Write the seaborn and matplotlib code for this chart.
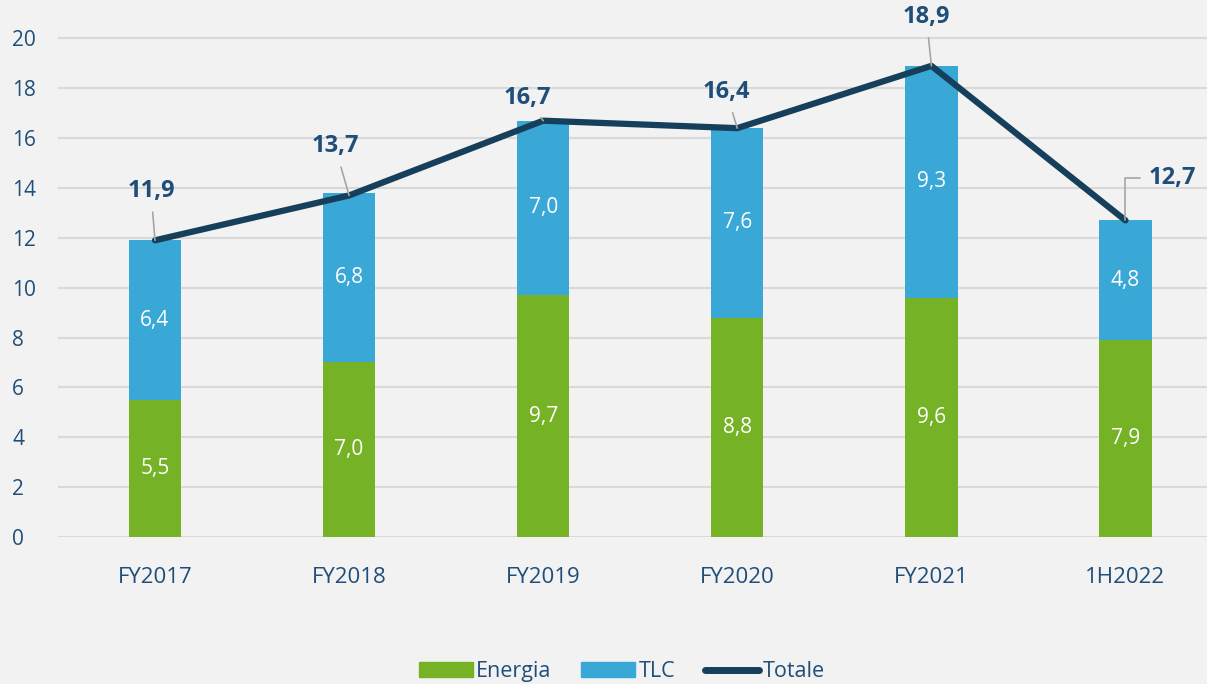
import numpy as np
import pandas as pd
import seaborn as sns
import matplotlib.pyplot as plt
from matplotlib.patches import Patch
from matplotlib.lines import Line2D

periods = ['FY2017', 'FY2018', 'FY2019', 'FY2020', 'FY2021', '1H2022']
energia = [5.5, 7.0, 9.7, 8.8, 9.6, 7.9]
tlc = [6.4, 6.8, 7.0, 7.6, 9.3, 4.8]
totale = [11.9, 13.7, 16.7, 16.4, 18.9, 12.7]

# label offsets (pixels) for the total labels
lbl_dx = [-4, -14, -16, -11, -5, 47]
lbl_dy = [49, 49, 23, 36, 49, 42]

green = '#76b226'
blue = '#3aa8d7'
navy = '#163f5c'
txt = '#1f4e79'

df = pd.DataFrame({'Periodo': periods, 'Energia': energia, 'TLC': tlc, 'Totale': totale})

sns.set_style('white')
plt.rcParams['font.family'] = ['Open Sans', 'DejaVu Sans']

fig = plt.figure(figsize=(12.07, 6.84), dpi=100, facecolor='#f2f2f2')
ax = fig.add_axes([0.048, 0.215, 0.952, 0.778])
ax.set_facecolor('#f2f2f2')

sns.barplot(data=df, x='Periodo', y='Energia', color=green, width=0.27,
            saturation=1, linewidth=0, edgecolor='none', ax=ax, zorder=2)
sns.barplot(data=df, x='Periodo', y='TLC', color=blue, width=0.27,
            saturation=1, linewidth=0, edgecolor='none',
            bottom=df['Energia'], ax=ax, zorder=2)
ax.plot(range(len(periods)), totale, color=navy, lw=4.5, zorder=4,
        solid_capstyle='round', solid_joinstyle='round')

for i in range(len(periods)):
    ax.text(i, energia[i] / 2, f'{energia[i]:.1f}'.replace('.', ','), ha='center',
            va='center', color='white', fontsize=15, zorder=5)
    ax.text(i, energia[i] + tlc[i] / 2, f'{tlc[i]:.1f}'.replace('.', ','), ha='center',
            va='center', color='white', fontsize=15, zorder=5)
    conn = 'angle,angleA=0,angleB=90,rad=0' if i == len(periods) - 1 else 'arc3'
    ax.annotate(f'{totale[i]:.1f}'.replace('.', ','), xy=(i, totale[i]),
                xytext=(lbl_dx[i], lbl_dy[i]), textcoords='offset pixels',
                ha='center', va='center', color=txt, fontsize=17, fontweight='bold',
                annotation_clip=False, zorder=6,
                arrowprops=dict(arrowstyle='-', color='#a6a6a6', lw=1.2,
                                shrinkA=4, shrinkB=0, connectionstyle=conn))

ax.set_xlim(-0.5, 5.42)
ax.set_ylim(0, 21.35)
ax.set_yticks(np.arange(0, 21, 2))
ax.yaxis.grid(True, color='#d9d9d9', lw=1.5, zorder=0)
ax.set_axisbelow(True)
for s in ax.spines.values():
    s.set_visible(False)
ax.set_xlabel('')
ax.set_ylabel('')
ax.tick_params(axis='x', length=0, pad=22, labelsize=16, labelcolor=txt)
ax.tick_params(axis='y', length=0, pad=33, labelsize=15, labelcolor=txt)
for lab in ax.get_yticklabels():
    lab.set_horizontalalignment('left')

handles = [Patch(color=green, label='Energia'), Patch(color=blue, label='TLC'),
           Line2D([0], [0], color=navy, lw=5, solid_capstyle='round', label='Totale')]
leg = fig.legend(handles=handles, loc='center', bbox_to_anchor=(0.515, 0.018), ncol=3,
                 frameon=False, fontsize=15.5, handlelength=2.5, handleheight=0.65,
                 columnspacing=1.4, handletextpad=0.15)
for t in leg.get_texts():
    t.set_color(txt)

fig.savefig('out.png', dpi=100, facecolor=fig.get_facecolor())
